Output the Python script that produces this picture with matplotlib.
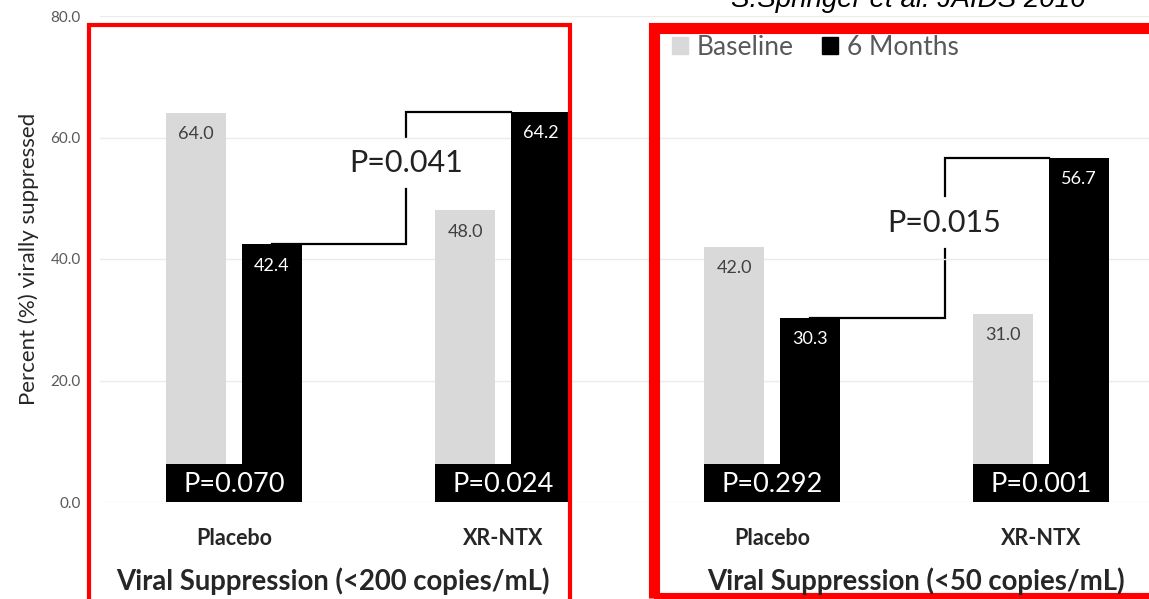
import numpy as np
import matplotlib.pyplot as plt
from matplotlib.patches import Rectangle

plt.rcParams['font.family'] = ['Lato', 'DejaVu Sans']

# data
groups = ['Placebo', 'XR-NTX', 'Placebo', 'XR-NTX']
baseline = [64.0, 48.0, 42.0, 31.0]
six_months = [42.4, 64.2, 30.3, 56.7]
within_p = ['P=0.070', 'P=0.024', 'P=0.292', 'P=0.001']
between_p = ['P=0.041', 'P=0.015']
panel_titles = ['Viral Suppression (<200 copies/mL)', 'Viral Suppression (<50 copies/mL)']
yticks = [0, 20, 40, 60, 80]

W, H = 1149, 599
fig = plt.figure(figsize=(W / 100, H / 100), dpi=100)
ax = fig.add_axes([100 / W, 1 - 502 / H, 1 - 100 / W, 486 / H])

x = np.arange(len(groups))
w = 0.223
off = 0.141
gray = '#d9d9d9'

ax.bar(x - off, baseline, w, color=gray, zorder=2)
ax.bar(x + off, six_months, w, color='black', zorder=2)

# value labels
for xi, b, s in zip(x, baseline, six_months):
    ax.text(xi - off, b - 3.5, f'{b:.1f}', ha='center', va='center', fontsize=13, color='#404040', zorder=4)
    ax.text(xi + off, s - 3.5, f'{s:.1f}', ha='center', va='center', fontsize=13, color='white', zorder=4)

# within-arm p-value boxes
ax.bar(x, 6.2, 2 * off + w, color='black', zorder=3)
for xi, p in zip(x, within_p):
    ax.text(xi, 2.9, p, ha='center', va='center', fontsize=19.5, color='white', zorder=4)

# between-arm brackets
for k, p in enumerate(between_p):
    i, j = 2 * k, 2 * k + 1
    x0 = x[i] + off
    xm = (x[i] + x[j]) / 2 + off
    x1 = x[j] + off - w / 2
    y0, y1 = six_months[i], six_months[j]
    yt = (y0 + y1) / 2 + 2.5
    ax.plot([x0, xm, xm], [y0, y0, yt - 4.3], color='black', lw=1.6, zorder=1, solid_joinstyle='miter')
    ax.plot([xm, xm, x1], [yt + 4.3, y1, y1], color='black', lw=1.6, zorder=1, solid_joinstyle='miter')
    ax.text(xm, yt, p, ha='center', va='center', fontsize=22, color='#222222')

ax.set_xlim(-0.498, 3.401)
ax.set_ylim(0, 80)
ax.set_yticks(yticks, [f'{v:.1f}' for v in yticks])
ax.set_xticks(x, groups)
for lab in ax.get_xticklabels():
    lab.set_fontweight('bold')
    lab.set_fontsize(15.5)
    lab.set_color('#262626')
ax.tick_params(axis='x', length=0, pad=19)
ax.tick_params(axis='y', length=0, pad=14, labelsize=11, labelcolor='#595959')
ax.yaxis.grid(True, color='#ebebeb', lw=1, zorder=0)
for sp in ax.spines.values():
    sp.set_visible(False)
ax.set_ylabel('Percent (%) virally suppressed', fontsize=16, color='#262626', labelpad=8)

# legend
handles = [Rectangle((0, 0), 1, 1, color=gray), Rectangle((0, 0), 1, 1, color='black')]
fig.legend(handles, ['Baseline', '6 Months'], loc='center left', bbox_to_anchor=(672 / W, 1 - 47.5 / H),
           ncol=2, frameon=False, fontsize=19, labelcolor='#595959', handlelength=0.6, handleheight=0.6,
           handletextpad=0.35, columnspacing=1.05, borderpad=0, borderaxespad=0)

# panel titles
fig.text(333 / W, 1 - 581 / H, panel_titles[0], ha='center', va='center', fontsize=19.8, fontweight='bold', color='#262626')
fig.text(916 / W, 1 - 581 / H, panel_titles[1], ha='center', va='center', fontsize=19.8, fontweight='bold', color='#262626')

# citation
fig.text(908 / W, 1 - 7 / H, 'S.Springer et al. JAIDS 2016', ha='center', va='baseline', fontsize=20,
         style='italic', family=['Liberation Sans'], color='black')

# red highlight boxes
fig.patches.append(Rectangle((89 / W, -0.05), (570 - 89) / W, 1.05 - 24.5 / H, transform=fig.transFigure,
                             fill=False, edgecolor='#ff0000', lw=3, clip_on=False))
fig.patches.append(Rectangle((654 / W, 1 - 598 / H), 0.5, (598 - 27.5) / H, transform=fig.transFigure,
                             fill=False, edgecolor='#ff0000', lw=8, clip_on=False))

fig.savefig('out.png', dpi=100)
